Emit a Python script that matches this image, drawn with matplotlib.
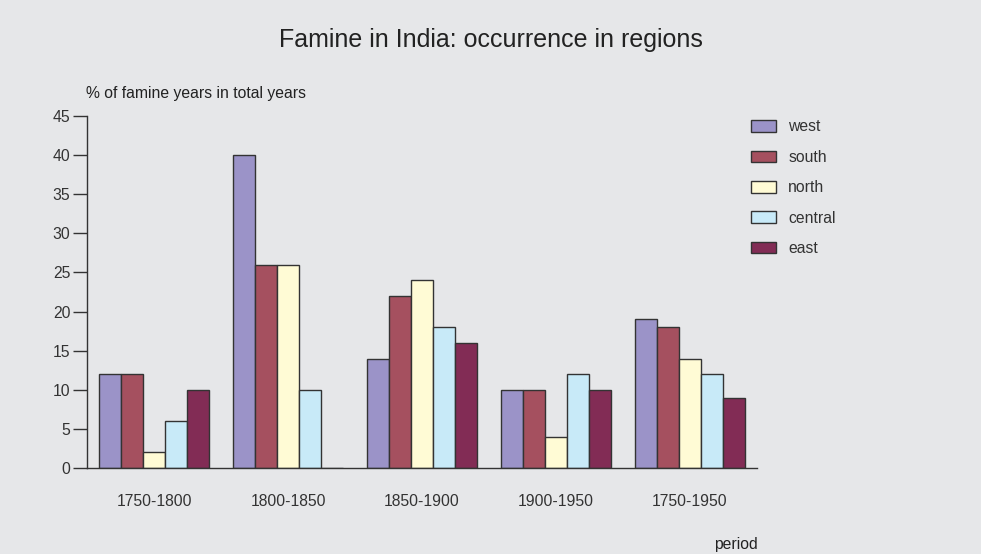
import matplotlib
matplotlib.use("Agg")
import matplotlib.pyplot as plt
import numpy as np

plt.rcParams['font.family'] = ['Liberation Sans Narrow', 'Liberation Sans', 'DejaVu Sans']

periods = ["1750-1800", "1800-1850", "1850-1900", "1900-1950", "1750-1950"]
regions = ["west", "south", "north", "central", "east"]
west = [12, 40, 14, 10, 19]
south = [12, 26, 22, 10, 18]
north = [2, 26, 24, 4, 14]
central = [6, 10, 18, 12, 12]
east = [10, 0, 16, 10, 9]
colors = ["#9b93c8", "#a5505f", "#fffbd5", "#c8eaf8", "#822c55"]

bg = "#e6e7e9"
fs = 11.3
fig = plt.figure(figsize=(9.81, 5.54), dpi=100, facecolor=bg)
ax = fig.add_axes([0.0887, 0.1552, 0.683, 0.6354], facecolor=bg)

x = np.arange(len(periods))
w = 0.164
for i, (name, vals) in enumerate(zip(regions, [west, south, north, central, east])):
    ax.bar(x + (i - 2) * w, vals, w, color=colors[i], edgecolor="#333333",
           linewidth=1.0, label=name)

ax.set_xlim(-0.5, 4.5)
ax.set_ylim(0, 45)
ax.set_yticks(range(0, 46, 5))
ax.set_xticks(x)
ax.set_xticklabels(periods)
ax.tick_params(axis="x", length=0, pad=19, labelsize=fs, colors="#333333")
ax.tick_params(axis="y", length=10, width=1, direction="out", labelsize=fs,
               colors="#333333", pad=2)
for s in ["top", "right"]:
    ax.spines[s].set_visible(False)
for s in ["left", "bottom"]:
    ax.spines[s].set_color("#333333")
    ax.spines[s].set_linewidth(1.0)

fig.text(0.5, 0.928, "Famine in India: occurrence in regions", ha="center",
         va="center", fontsize=18, color="#222222")
fig.text(0.0877, 0.832, "% of famine years in total years", ha="left",
         va="center", fontsize=fs, color="#222222")
fig.text(0.772, 0.018, "period", ha="right", va="center", fontsize=fs,
         color="#222222")

leg = ax.legend(loc="upper left", bbox_to_anchor=(0.982, 1.008), frameon=False,
                fontsize=fs, handlelength=1.6, handleheight=0.75,
                labelspacing=0.98, handletextpad=0.76, borderaxespad=0)
for t in leg.get_texts():
    t.set_color("#333333")

fig.savefig("out.png", dpi=100, facecolor=bg)
